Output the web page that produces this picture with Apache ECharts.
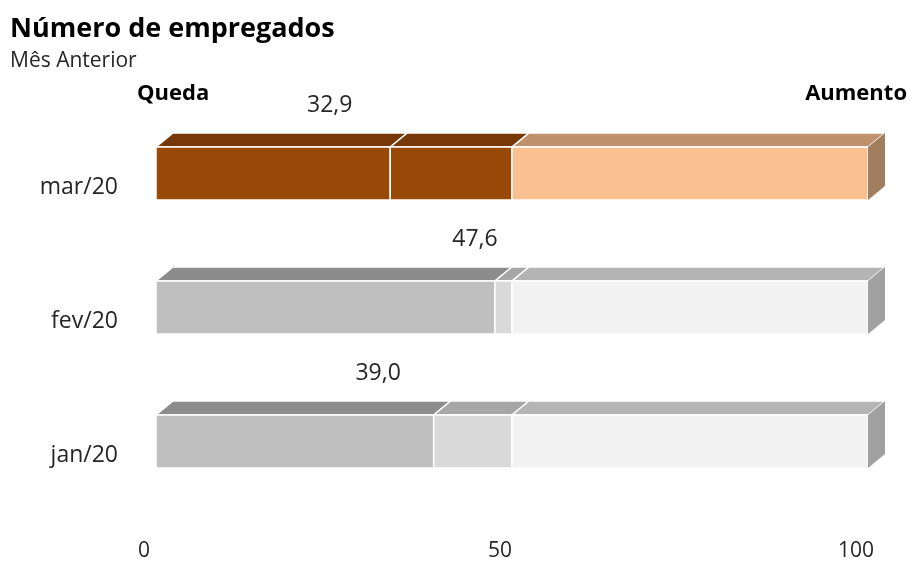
<!DOCTYPE html>
<html><head><meta charset="utf-8">
<script src="https://cdn.jsdelivr.net/npm/echarts@6/dist/echarts.min.js"></script>
<style>html,body{margin:0;padding:0;background:#fff}#c{width:910px;height:564px}</style>
</head><body><div id="c"></div>
<script>
// ---- data ----
const categories = ['jan/20', 'fev/20', 'mar/20'];
const values = [39.0, 47.6, 32.9];
const midpoint = 50;
const maxValue = 100;
const xTicks = [0, 50, 100];
const titleText = 'Número de empregados';
const subtitleText = 'Mês Anterior';
const leftLabel = 'Queda';
const rightLabel = 'Aumento';

// ---- layout / style (not data) ----
const labelAnchorX = [31.2, 44.8, 24.4]; // where each value label sits, in axis units
const FONT = '"Open Sans"';
const DX = 17, DY = -14, BAR_RATIO = 0.395;
const frontColors = {
  hi: ['#984807', '#984807', '#FAC090'],
  lo: ['#BFBFBF', '#D9D9D9', '#F2F2F2']
};
const topColors = {
  hi: ['#773706', '#773706', '#C0906C'],
  lo: ['#8C8C8C', '#A6A6A6', '#B4B4B4']
};
const sideColors = { hi: '#A07E5E', lo: '#A0A0A0' };
const highlightIndex = categories.indexOf('mar/20');

// segments built from the values
const segData = [
  values.map((v, i) => [i, 0, v]),
  values.map((v, i) => [i, v, midpoint]),
  values.map((v, i) => [i, midpoint, maxValue])
];

function segSeries(s) {
  return {
    type: 'custom',
    name: 'seg' + s,
    data: segData[s],
    encode: { x: [1, 2], y: 0 },
    z: 2 + s,
    renderItem: function (params, api) {
      const cat = api.value(0);
      const p0 = api.coord([api.value(1), cat]);
      const p1 = api.coord([api.value(2), cat]);
      const band = api.size([0, 1])[1];
      const h = band * BAR_RATIO;
      const top = p0[1] - h / 2, bottom = p0[1] + h / 2;
      const key = cat === highlightIndex ? 'hi' : 'lo';
      const x0 = p0[0], x1 = p1[0];
      const children = [
        { type: 'polygon', shape: { points: [[x0, top], [x0 + DX, top + DY], [x1 + DX, top + DY], [x1, top]] },
          style: { fill: topColors[key][s], stroke: '#fff', lineWidth: 1.5 } },
        { type: 'rect', shape: { x: x0, y: top, width: x1 - x0, height: h },
          style: { fill: frontColors[key][s], stroke: '#fff', lineWidth: 1.5 } }
      ];
      if (s === 2) {
        children.push({ type: 'polygon', shape: { points: [[x1, top], [x1 + DX, top + DY], [x1 + DX, bottom + DY], [x1, bottom]] },
          style: { fill: sideColors[key] } });
      }
      return { type: 'group', children: children };
    }
  };
}

const chart = echarts.init(document.getElementById('c'), null, { renderer: 'canvas' });
chart.setOption({
  animation: false,
  backgroundColor: '#fff',
  title: {
    text: titleText, subtext: subtitleText, left: 5, top: 11, itemGap: 8,
    textStyle: { fontFamily: FONT, fontWeight: 'bold', fontSize: 27, color: '#000' },
    subtextStyle: { fontFamily: FONT, fontSize: 21, color: '#262626' }
  },
  graphic: [
    { type: 'text', left: 137, top: 83, style: { text: leftLabel, font: 'bold 22px ' + FONT, fill: '#000' } },
    { type: 'text', right: 3, top: 83, style: { text: rightLabel, font: 'bold 22px ' + FONT, fill: '#000' } }
  ],
  grid: { left: 156, right: 42, top: 106.5, height: 402 },
  xAxis: {
    type: 'value', min: xTicks[0], max: xTicks[xTicks.length - 1], interval: xTicks[1] - xTicks[0],
    splitLine: { show: false }, axisLine: { show: false }, axisTick: { show: false },
    axisLabel: { fontFamily: FONT, fontSize: 21, color: '#262626', margin: 32, padding: [0, 24, 0, 0] }
  },
  yAxis: {
    type: 'category', data: categories,
    axisLine: { show: false }, axisTick: { show: false },
    axisLabel: { fontFamily: FONT, fontSize: 23, color: '#262626', margin: 38, verticalAlign: 'top', lineHeight: 28 }
  },
  series: [segSeries(0), segSeries(1), segSeries(2), {
    type: 'custom', name: 'labels', z: 10,
    data: values.map((v, i) => [i, labelAnchorX[i], v]),
    encode: { x: 1, y: 0 },
    renderItem: function (params, api) {
      const p = api.coord([api.value(1), api.value(0)]);
      return { type: 'text', x: p[0], y: p[1] - 68,
        style: { text: api.value(2).toFixed(1).replace('.', ','), font: '23px ' + FONT, fill: '#262626', align: 'center', verticalAlign: 'middle' } };
    }
  }]
});
</script></body></html>
